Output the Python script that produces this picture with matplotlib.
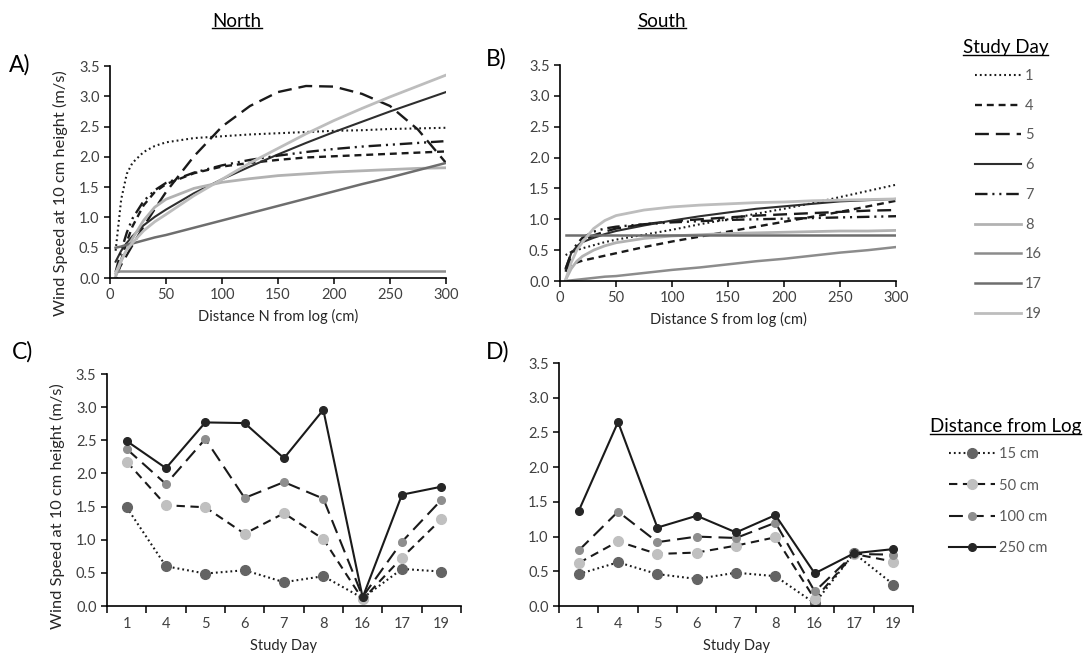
import matplotlib
matplotlib.use("Agg")
import matplotlib.pyplot as plt
from matplotlib.lines import Line2D
from matplotlib.ticker import FormatStrFormatter, MultipleLocator, FixedLocator, NullFormatter

plt.rcParams["font.family"] = ["Lato", "DejaVu Sans"]
plt.rcParams["lines.scale_dashes"] = False

# ---- fitted wind profiles, sampled along the transect (cm) ----
DIST = [5, 10, 15, 20, 30, 40, 50, 75, 100, 125, 150, 175, 200, 225, 250, 275, 300]
DAYS = ["1", "4", "5", "6", "7", "8", "16", "17", "19"]

N_D1 = [0.45, 1.30, 1.72, 1.90, 2.08, 2.18, 2.24, 2.31, 2.34, 2.37, 2.39, 2.41, 2.43, 2.44, 2.46, 2.47, 2.48]
N_D4 = [-0.10, 0.30, 0.60, 0.85, 1.20, 1.42, 1.55, 1.73, 1.84, 1.90, 1.95, 1.99, 2.01, 2.03, 2.05, 2.07, 2.09]
N_D5 = [0.04, 0.22, 0.38, 0.54, 0.85, 1.14, 1.42, 2.01, 2.50, 2.84, 3.07, 3.17, 3.16, 3.04, 2.84, 2.45, 1.90]
N_D6 = [0.27, 0.45, 0.58, 0.69, 0.87, 1.01, 1.13, 1.40, 1.63, 1.84, 2.04, 2.23, 2.41, 2.58, 2.75, 2.91, 3.07]
N_D7 = [0.10, 0.45, 0.75, 0.98, 1.27, 1.45, 1.57, 1.74, 1.86, 1.95, 2.02, 2.08, 2.13, 2.17, 2.20, 2.23, 2.26]
N_D8 = [0.02, 0.28, 0.47, 0.65, 0.95, 1.17, 1.30, 1.48, 1.58, 1.64, 1.69, 1.72, 1.75, 1.77, 1.79, 1.81, 1.82]
N_D16 = [0.12, 0.12, 0.12, 0.12, 0.12, 0.12, 0.12, 0.12, 0.12, 0.12, 0.12, 0.12, 0.12, 0.12, 0.12, 0.12, 0.12]
N_D17 = [0.50, 0.52, 0.55, 0.57, 0.62, 0.67, 0.71, 0.83, 0.95, 1.07, 1.19, 1.31, 1.43, 1.55, 1.66, 1.78, 1.90]
N_D19 = [0.08, 0.30, 0.46, 0.58, 0.78, 0.93, 1.05, 1.36, 1.63, 1.90, 2.14, 2.38, 2.60, 2.80, 2.99, 3.17, 3.35]

S_D1 = [0.42, 0.47, 0.50, 0.53, 0.58, 0.63, 0.67, 0.75, 0.83, 0.92, 1.00, 1.09, 1.17, 1.26, 1.36, 1.46, 1.56]
S_D4 = [0.20, 0.27, 0.30, 0.33, 0.37, 0.41, 0.45, 0.55, 0.64, 0.72, 0.80, 0.88, 0.96, 1.04, 1.12, 1.21, 1.30]
S_D5 = [0.15, 0.40, 0.55, 0.64, 0.74, 0.80, 0.85, 0.92, 0.97, 1.00, 1.03, 1.06, 1.08, 1.10, 1.12, 1.14, 1.15]
S_D6 = [0.20, 0.45, 0.56, 0.63, 0.70, 0.76, 0.81, 0.90, 0.98, 1.05, 1.11, 1.17, 1.21, 1.25, 1.29, 1.31, 1.33]
S_D7 = [0.20, 0.45, 0.60, 0.70, 0.80, 0.85, 0.88, 0.92, 0.95, 0.97, 0.99, 1.00, 1.01, 1.02, 1.03, 1.04, 1.05]
S_D8 = [0.02, 0.20, 0.32, 0.40, 0.50, 0.57, 0.62, 0.69, 0.73, 0.75, 0.77, 0.78, 0.79, 0.80, 0.81, 0.81, 0.82]
S_D16 = [0.00, 0.01, 0.02, 0.03, 0.05, 0.07, 0.08, 0.13, 0.18, 0.22, 0.27, 0.32, 0.36, 0.41, 0.46, 0.50, 0.55]
S_D17 = [0.74, 0.74, 0.74, 0.74, 0.74, 0.74, 0.74, 0.74, 0.74, 0.74, 0.74, 0.74, 0.74, 0.74, 0.74, 0.74, 0.74]
S_D19 = [0.02, 0.30, 0.50, 0.63, 0.85, 0.98, 1.06, 1.15, 1.20, 1.23, 1.25, 1.27, 1.28, 1.30, 1.31, 1.32, 1.33]

# ---- measured wind speed by study day ----
DAY_LABELS = ["1", "4", "5", "6", "7", "8", "16", "17", "19"]
HEIGHTS = ["15 cm", "50 cm", "100 cm", "250 cm"]

C_15 = [1.49, 0.60, 0.49, 0.54, 0.36, 0.45, 0.12, 0.56, 0.52]
C_50 = [2.18, 1.52, 1.49, 1.09, 1.40, 1.01, 0.10, 0.73, 1.31]
C_100 = [2.37, 1.84, 2.52, 1.63, 1.87, 1.62, 0.14, 0.97, 1.60]
C_250 = [2.49, 2.08, 2.77, 2.76, 2.23, 2.96, 0.13, 1.68, 1.80]

D_15 = [0.46, 0.63, 0.46, 0.39, 0.48, 0.43, 0.04, 0.76, 0.31]
D_50 = [0.62, 0.93, 0.75, 0.77, 0.87, 0.99, 0.10, 0.75, 0.64]
D_100 = [0.80, 1.36, 0.92, 1.00, 0.98, 1.20, 0.21, 0.75, 0.74]
D_250 = [1.37, 2.65, 1.13, 1.30, 1.06, 1.31, 0.47, 0.76, 0.82]

NORTH = [N_D1, N_D4, N_D5, N_D6, N_D7, N_D8, N_D16, N_D17, N_D19]
SOUTH = [S_D1, S_D4, S_D5, S_D6, S_D7, S_D8, S_D16, S_D17, S_D19]
NORTH_PTS = [C_15, C_50, C_100, C_250]
SOUTH_PTS = [D_15, D_50, D_100, D_250]

# line style per study day: (color, linewidth, dash pattern)
DAY_STYLE = [
    ("#1a1a1a", 1.5, (0, (1.3, 2.2))),
    ("#1a1a1a", 1.7, (0, (5, 3.5))),
    ("#1a1a1a", 1.7, (0, (10, 5))),
    ("#2e2e2e", 1.5, "-"),
    ("#1a1a1a", 1.7, (0, (9, 3.5, 1.5, 3.5, 1.5, 3.5))),
    ("#b2b2b2", 2.0, "-"),
    ("#8c8c8c", 1.8, "-"),
    ("#6e6e6e", 1.8, "-"),
    ("#bdbdbd", 2.0, "-"),
]

# line style per measurement height: (line dash, marker colour, marker size)
HEIGHT_STYLE = [
    ((0, (1.3, 2.2)), "#646464", 7.0),
    ((0, (6, 4)), "#c0c0c0", 7.0),
    ((0, (10, 5)), "#8e8e8e", 5.5),
    ("-", "#262626", 5.5),
]

TEXT_GRAY = "#404040"
YLABEL = "Wind Speed at 10 cm height (m/s)"


def style_axes(ax):
    for side in ("top", "right"):
        ax.spines[side].set_visible(False)
    for side in ("left", "bottom"):
        ax.spines[side].set_linewidth(1.2)
        ax.spines[side].set_color("black")
    ax.set_ylim(0, 3.5)
    ax.yaxis.set_major_locator(MultipleLocator(0.5))
    ax.yaxis.set_major_formatter(FormatStrFormatter("%.1f"))
    ax.tick_params(axis="both", which="both", direction="out", length=4, width=1.1,
                   labelsize=10.5, labelcolor=TEXT_GRAY, color="black")


def profile_panel(ax, curves, xlabel):
    handles = []
    for vals, (color, lw, ls), day in zip(curves, DAY_STYLE, DAYS):
        ln, = ax.plot(DIST, vals, color=color, lw=lw, linestyle=ls, label=day)
        handles.append(ln)
    ax.set_xlim(0, 300)
    ax.xaxis.set_major_locator(MultipleLocator(50))
    style_axes(ax)
    ax.set_xlabel(xlabel, fontsize=10.5, color="#262626", labelpad=5)
    return handles


def day_panel(ax, series):
    pos = list(range(len(DAY_LABELS)))
    handles = []
    for vals, (ls, mc, ms), lab in zip(series, HEIGHT_STYLE, HEIGHTS):
        ln, = ax.plot(pos, vals, color="#1a1a1a", lw=1.5, linestyle=ls,
                      marker="o", markersize=ms, markerfacecolor=mc,
                      markeredgecolor=mc, label=lab)
        handles.append(ln)
    ax.set_xlim(-0.5, len(DAY_LABELS) - 0.5)
    ax.xaxis.set_major_locator(FixedLocator(pos))
    ax.set_xticklabels(DAY_LABELS)
    ax.xaxis.set_minor_locator(FixedLocator([p - 0.5 for p in pos] + [pos[-1] + 0.5]))
    ax.xaxis.set_minor_formatter(NullFormatter())
    style_axes(ax)
    ax.tick_params(axis="x", which="major", length=0, pad=8)
    ax.tick_params(axis="x", which="minor", length=5)
    ax.set_xlabel("Study Day", fontsize=10.5, color="#262626", labelpad=6)
    return handles


def underlined(fig, x, y, s, size):
    t = fig.text(x, y, s, fontsize=size, ha="center", va="center", color="black")
    renderer = fig.canvas.get_renderer()
    bb = t.get_window_extent(renderer).transformed(fig.transFigure.inverted())
    fig.add_artist(Line2D([bb.x0, bb.x1], [bb.y0 + 0.002] * 2,
                          transform=fig.transFigure, color="black", lw=1.0))


fig = plt.figure(figsize=(10.87, 6.64), dpi=100)

ax_a = fig.add_axes([0.1012, 0.5813, 0.3091, 0.3193])
ax_b = fig.add_axes([0.5152, 0.5768, 0.3091, 0.3253])
ax_c = fig.add_axes([0.0984, 0.0873, 0.3257, 0.3494])
ax_d = fig.add_axes([0.5143, 0.0873, 0.3257, 0.3660])

day_handles = profile_panel(ax_a, NORTH, "Distance N from log (cm)")
profile_panel(ax_b, SOUTH, "Distance S from log (cm)")
height_handles = day_panel(ax_c, NORTH_PTS)
day_panel(ax_d, SOUTH_PTS)

# y titles sit a little below the axis midpoint
ax_a.set_ylabel(YLABEL, fontsize=11.8, color="#262626")
ax_a.yaxis.set_label_coords(-0.125, 0.40)
ax_c.set_ylabel(YLABEL, fontsize=11.8, color="#262626")
ax_c.yaxis.set_label_coords(-0.119, 0.43)

# panel letters
fig.text(0.008, 0.902, "A)", fontsize=16.5, va="center")
fig.text(0.447, 0.912, "B)", fontsize=16.5, va="center")
fig.text(0.011, 0.470, "C)", fontsize=16.5, va="center")
fig.text(0.447, 0.470, "D)", fontsize=16.5, va="center")

underlined(fig, 0.218, 0.968, "North", 13.5)
underlined(fig, 0.609, 0.968, "South", 13.5)
underlined(fig, 0.925, 0.928, "Study Day", 13.5)
underlined(fig, 0.925, 0.357, "Distance from Log", 13.5)

fig.legend(handles=day_handles, loc="upper left", bbox_to_anchor=(0.892, 0.905),
           frameon=False, fontsize=10.5, labelcolor="#595959", handlelength=3.1,
           handletextpad=0.3, labelspacing=1.08, borderaxespad=0)
fig.legend(handles=height_handles, loc="upper left", bbox_to_anchor=(0.868, 0.335),
           frameon=False, fontsize=10.5, labelcolor="#595959", handlelength=3.1,
           handletextpad=0.3, labelspacing=1.18, borderaxespad=0)

fig.savefig("out.png", dpi=100)
